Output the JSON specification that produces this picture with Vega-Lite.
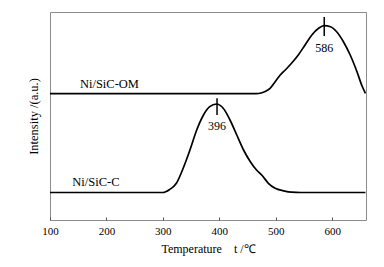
{
  "$schema": "https://vega.github.io/schema/vega-lite/v6.json",
  "width": 316,
  "height": 208,
  "autosize": {"type": "none"},
  "padding": {"left": 50, "top": 12, "right": 18, "bottom": 47},
  "background": "white",
  "config": {
    "view": {"stroke": "#8c8c8c", "strokeWidth": 1},
    "font": "Liberation Serif"
  },
  "datasets": {
    "curves": [
      {"series": "Ni/SiC-C", "t": 100, "y": 27.5},
      {"series": "Ni/SiC-C", "t": 300, "y": 27.5},
      {"series": "Ni/SiC-C", "t": 312, "y": 30.5},
      {"series": "Ni/SiC-C", "t": 324, "y": 36.7},
      {"series": "Ni/SiC-C", "t": 336, "y": 51.7},
      {"series": "Ni/SiC-C", "t": 348, "y": 70},
      {"series": "Ni/SiC-C", "t": 360, "y": 90},
      {"series": "Ni/SiC-C", "t": 372, "y": 105},
      {"series": "Ni/SiC-C", "t": 383, "y": 113.3},
      {"series": "Ni/SiC-C", "t": 395, "y": 116},
      {"series": "Ni/SiC-C", "t": 407, "y": 111.7},
      {"series": "Ni/SiC-C", "t": 419, "y": 100},
      {"series": "Ni/SiC-C", "t": 431, "y": 85},
      {"series": "Ni/SiC-C", "t": 443, "y": 70},
      {"series": "Ni/SiC-C", "t": 455, "y": 58.3},
      {"series": "Ni/SiC-C", "t": 466, "y": 50},
      {"series": "Ni/SiC-C", "t": 476, "y": 44.5},
      {"series": "Ni/SiC-C", "t": 487, "y": 36.7},
      {"series": "Ni/SiC-C", "t": 499, "y": 31.7},
      {"series": "Ni/SiC-C", "t": 514, "y": 29.2},
      {"series": "Ni/SiC-C", "t": 528, "y": 27.8},
      {"series": "Ni/SiC-C", "t": 545, "y": 27.5},
      {"series": "Ni/SiC-C", "t": 659, "y": 27.5},
      {"series": "Ni/SiC-OM", "t": 100, "y": 126.3},
      {"series": "Ni/SiC-OM", "t": 465, "y": 126.3},
      {"series": "Ni/SiC-OM", "t": 474, "y": 127},
      {"series": "Ni/SiC-OM", "t": 482, "y": 128.7},
      {"series": "Ni/SiC-OM", "t": 490, "y": 131.7},
      {"series": "Ni/SiC-OM", "t": 499, "y": 138.3},
      {"series": "Ni/SiC-OM", "t": 508, "y": 145},
      {"series": "Ni/SiC-OM", "t": 517, "y": 150},
      {"series": "Ni/SiC-OM", "t": 528, "y": 156.7},
      {"series": "Ni/SiC-OM", "t": 540, "y": 165},
      {"series": "Ni/SiC-OM", "t": 552, "y": 175},
      {"series": "Ni/SiC-OM", "t": 564, "y": 185},
      {"series": "Ni/SiC-OM", "t": 576, "y": 191.7},
      {"series": "Ni/SiC-OM", "t": 586, "y": 194.3},
      {"series": "Ni/SiC-OM", "t": 597, "y": 193.3},
      {"series": "Ni/SiC-OM", "t": 608, "y": 188.3},
      {"series": "Ni/SiC-OM", "t": 620, "y": 178.3},
      {"series": "Ni/SiC-OM", "t": 632, "y": 165},
      {"series": "Ni/SiC-OM", "t": 644, "y": 148.3},
      {"series": "Ni/SiC-OM", "t": 653, "y": 134},
      {"series": "Ni/SiC-OM", "t": 659, "y": 126.7}
    ],
    "peaks": [
      {"t": 586, "y": 184, "y2": 203, "label": "586", "ly": 172.5},
      {"t": 396, "y": 105, "y2": 121.7, "label": "396", "ly": 94}
    ],
    "names": [
      {"t": 153, "y": 132.3, "label": "Ni/SiC-OM"},
      {"t": 139.5, "y": 34, "label": "Ni/SiC-C"}
    ]
  },
  "layer": [
    {
      "data": {"name": "curves"},
      "mark": {"type": "line", "color": "black", "strokeWidth": 1.7, "interpolate": "monotone"},
      "encoding": {
        "x": {
          "field": "t", "type": "quantitative",
          "scale": {"domain": [100, 660], "nice": false, "zero": false},
          "axis": {
            "values": [100, 200, 300, 400, 500, 600],
            "title": "Temperature\u00a0\u00a0\u00a0\u00a0t /℃",
            "titleFont": "Liberation Serif", "titleFontSize": 12, "titleFontWeight": "normal", "titleColor": "black",
            "titlePadding": 7,
            "labelFont": "Liberation Serif", "labelFontSize": 11, "labelColor": "black", "labelPadding": 8,
            "labelFlush": false,
            "domain": false, "grid": false,
            "tickColor": "#555", "tickSize": -3, "tickWidth": 1
          }
        },
        "y": {
          "field": "y", "type": "quantitative",
          "scale": {"domain": [0, 208], "nice": false, "zero": false},
          "axis": {
            "title": "Intensity /(a.u.)",
            "titleFont": "Liberation Serif", "titleFontSize": 12.5, "titleFontWeight": "normal", "titleColor": "black",
            "titlePadding": 10,
            "labels": false, "ticks": false, "domain": false, "grid": false
          }
        },
        "detail": {"field": "series", "type": "nominal"}
      }
    },
    {
      "data": {"name": "peaks"},
      "mark": {"type": "rule", "color": "black", "strokeWidth": 1.5},
      "encoding": {
        "x": {"field": "t", "type": "quantitative"},
        "y": {"field": "y", "type": "quantitative"},
        "y2": {"field": "y2"}
      }
    },
    {
      "data": {"name": "peaks"},
      "mark": {"type": "text", "font": "Liberation Serif", "color": "black", "fontSize": 12, "baseline": "middle", "align": "center"},
      "encoding": {
        "x": {"field": "t", "type": "quantitative"},
        "y": {"field": "ly", "type": "quantitative"},
        "text": {"field": "label"}
      }
    },
    {
      "data": {"name": "names"},
      "mark": {"type": "text", "font": "Liberation Serif", "color": "black", "fontSize": 12.5, "baseline": "alphabetic", "align": "left"},
      "encoding": {
        "x": {"field": "t", "type": "quantitative"},
        "y": {"field": "y", "type": "quantitative"},
        "text": {"field": "label"}
      }
    }
  ]
}
